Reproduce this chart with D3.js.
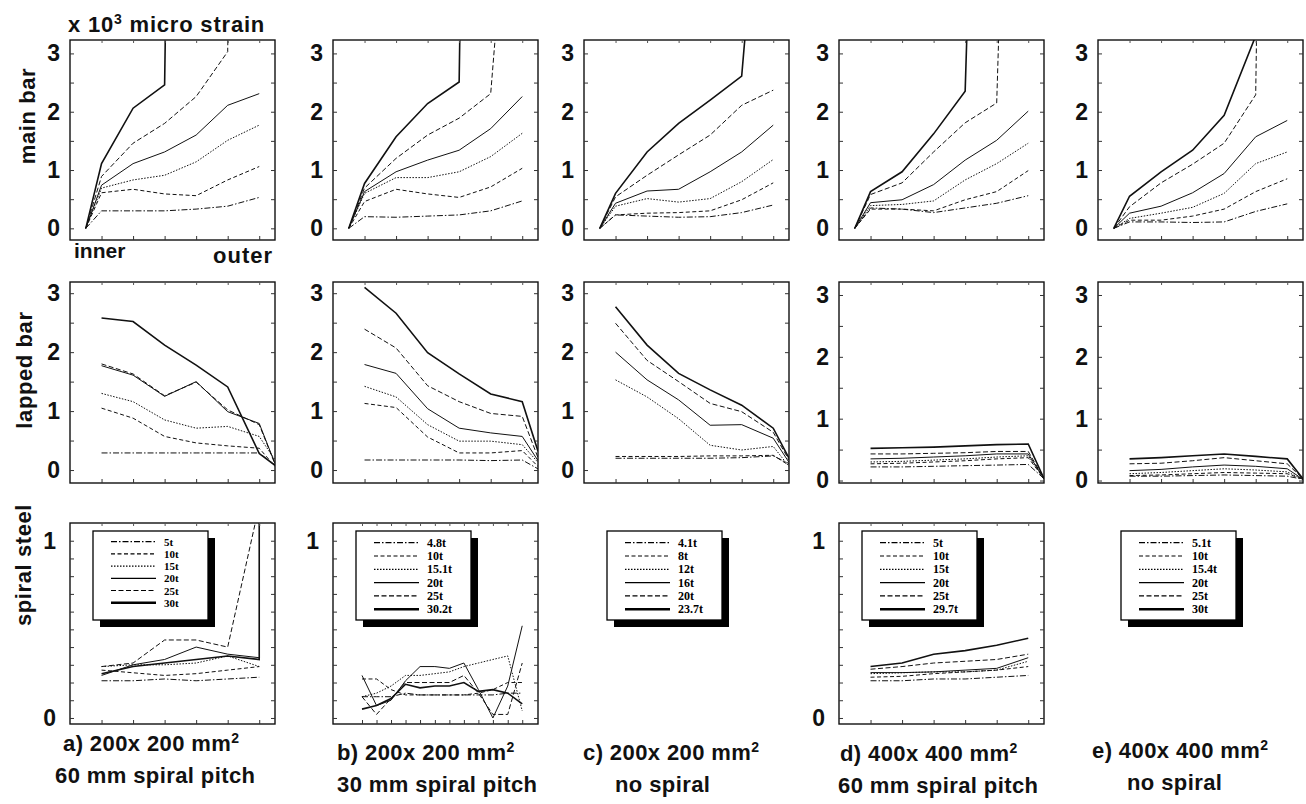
<!DOCTYPE html>
<html>
<head>
<meta charset="utf-8">
<script src="https://cdn.jsdelivr.net/npm/d3@7"></script>
<style>
  body { margin: 0; background: #fff; }
  svg { display: block; font-family: "Liberation Sans", Arial, sans-serif; }
</style>
</head>
<body>
<svg id="chart" width="1306" height="804"></svg>
<script>
// x positions of the gauges (inner -> outer)
var mainX   = [0, 0.5, 1.5, 2.5, 3.5, 4.5, 5.5];
var lappedX = [0.5, 1.5, 2.5, 3.5, 4.5, 5.5, 6];
var spiralX = [0.5, 1.5, 2.5, 3.5, 4.5, 5.5, 5.5];
var spiralXb = [0.42, 0.88, 1.34, 1.8, 2.26, 2.73, 3.19, 3.65, 4.11, 4.57, 5.04, 5.5];

var loadsA = ["5t", "10t", "15t", "20t", "25t", "30t"];
var loadsB = ["4.8t", "10t", "15.1t", "20t", "25t", "30.2t"];
var loadsC = ["4.1t", "8t", "12t", "16t", "20t", "23.7t"];
var loadsD = ["5t", "10t", "15t", "20t", "25t", "29.7t"];
var loadsE = ["5.1t", "10t", "15.4t", "20t", "25t", "30t"];

// main bar strain (x10^3 micro strain), one row per load
var mainA = [
  [0, 0.30, 0.30, 0.30, 0.33, 0.38, 0.53],
  [0, 0.61, 0.67, 0.59, 0.56, 0.83, 1.06],
  [0, 0.69, 0.83, 0.91, 1.14, 1.51, 1.77],
  [0, 0.74, 1.11, 1.31, 1.60, 2.11, 2.31],
  [0, 0.89, 1.46, 1.80, 2.26, 3.03, 40],
  [0, 1.11, 2.06, 2.46, 40, 40, 40]
];
var mainB = [
  [0, 0.20, 0.19, 0.21, 0.23, 0.30, 0.47],
  [0, 0.46, 0.67, 0.59, 0.53, 0.71, 1.03],
  [0, 0.60, 0.87, 0.87, 0.97, 1.23, 1.63],
  [0, 0.63, 0.97, 1.17, 1.34, 1.71, 2.26],
  [0, 0.69, 1.20, 1.60, 1.89, 2.31, 9],
  [0, 0.77, 1.57, 2.14, 2.51, 40, 40]
];
var mainC = [
  [0, 0.23, 0.21, 0.19, 0.20, 0.27, 0.40],
  [0, 0.23, 0.26, 0.27, 0.30, 0.49, 0.78],
  [0, 0.38, 0.51, 0.45, 0.51, 0.80, 1.18],
  [0, 0.43, 0.64, 0.67, 0.97, 1.31, 1.77],
  [0, 0.54, 0.91, 1.26, 1.60, 2.11, 2.37],
  [0, 0.60, 1.31, 1.80, 2.20, 2.61, 9]
];
var mainD = [
  [0, 0.35, 0.33, 0.27, 0.35, 0.43, 0.56],
  [0, 0.33, 0.33, 0.30, 0.49, 0.63, 0.99],
  [0, 0.39, 0.41, 0.47, 0.83, 1.11, 1.46],
  [0, 0.44, 0.49, 0.75, 1.17, 1.51, 2.01],
  [0, 0.58, 0.78, 1.31, 1.81, 2.15, 20],
  [0, 0.63, 0.97, 1.62, 2.35, 20, 20]
];
var mainE = [
  [0, 0.11, 0.11, 0.10, 0.11, 0.29, 0.42],
  [0, 0.14, 0.14, 0.21, 0.33, 0.63, 0.85],
  [0, 0.17, 0.26, 0.36, 0.60, 1.11, 1.31],
  [0, 0.26, 0.38, 0.61, 0.94, 1.57, 1.85],
  [0, 0.37, 0.78, 1.10, 1.46, 2.29, 40],
  [0, 0.55, 0.97, 1.34, 1.94, 3.30, 40]
];

// lapped bar strain
var lappedA = [
  [0.29, 0.29, 0.29, 0.29, 0.29, 0.29, 0.08],
  [1.05, 0.88, 0.57, 0.46, 0.41, 0.37, 0.06],
  [1.30, 1.16, 0.85, 0.71, 0.74, 0.57, 0.17],
  [1.77, 1.61, 1.25, 1.50, 0.99, 0.79, 0.11],
  [1.80, 1.63, 1.26, 1.49, 1.02, 0.77, 0.10],
  [2.58, 2.52, 2.12, 1.78, 1.41, 0.28, 0.08]
];
var lappedB = [
  [0.17, 0.17, 0.17, 0.17, 0.16, 0.17, 0.02],
  [1.13, 1.06, 0.56, 0.29, 0.29, 0.33, 0.06],
  [1.42, 1.24, 0.77, 0.49, 0.49, 0.43, 0.13],
  [1.79, 1.64, 1.04, 0.71, 0.63, 0.57, 0.16],
  [2.39, 2.07, 1.43, 1.16, 0.96, 0.91, 0.21],
  [3.10, 2.66, 1.99, 1.63, 1.29, 1.16, 0.32]
];
var lappedC = [
  [0.20, 0.20, 0.20, 0.20, 0.21, 0.24, 0.11],
  [0.23, 0.23, 0.23, 0.24, 0.24, 0.25, 0.08],
  [1.53, 1.24, 0.87, 0.42, 0.34, 0.40, 0.06],
  [2.00, 1.53, 1.19, 0.76, 0.77, 0.54, 0.13],
  [2.49, 1.86, 1.50, 1.13, 0.99, 0.64, 0.17],
  [2.77, 2.12, 1.64, 1.36, 1.10, 0.71, 0.20]
];
var lappedD = [
  [0.22, 0.22, 0.23, 0.24, 0.25, 0.26, 0.03],
  [0.27, 0.28, 0.30, 0.32, 0.35, 0.37, 0.03],
  [0.30, 0.31, 0.33, 0.35, 0.38, 0.40, 0.03],
  [0.35, 0.36, 0.38, 0.40, 0.43, 0.43, 0.03],
  [0.43, 0.43, 0.44, 0.45, 0.47, 0.47, 0.03],
  [0.52, 0.53, 0.54, 0.56, 0.58, 0.59, 0.03]
];
var lappedE = [
  [0.07, 0.07, 0.08, 0.09, 0.08, 0.07, 0.02],
  [0.08, 0.09, 0.11, 0.13, 0.12, 0.11, 0.02],
  [0.11, 0.13, 0.16, 0.19, 0.17, 0.14, 0.02],
  [0.16, 0.18, 0.22, 0.25, 0.23, 0.19, 0.02],
  [0.27, 0.28, 0.32, 0.37, 0.32, 0.27, 0.03],
  [0.35, 0.37, 0.40, 0.43, 0.39, 0.35, 0.03]
];

// spiral steel strain
var spiralA = [
  [0.21, 0.21, 0.22, 0.21, 0.22, 0.23],
  [0.27, 0.255, 0.24, 0.25, 0.27, 0.29],
  [0.29, 0.30, 0.30, 0.31, 0.35, 0.29],
  [0.24, 0.30, 0.33, 0.40, 0.36, 0.34],
  [0.29, 0.31, 0.44, 0.44, 0.40, 1.20],
  [0.25, 0.29, 0.31, 0.33, 0.35, 0.33, 1.20]
];
var spiralB = [
  [0.12, 0.12, 0.12, 0.14, 0.13, 0.13, 0.13, 0.13, 0.13, 0.13, 0.14, 0.14],
  [0.22, 0.22, 0.16, 0.13, 0.13, 0.13, 0.13, 0.13, 0.14, 0.16, 0.20, 0.20],
  [0.12, 0.14, 0.18, 0.24, 0.24, 0.25, 0.26, 0.29, 0.31, 0.33, 0.35, 0.04],
  [0.24, 0.07, 0.10, 0.21, 0.29, 0.29, 0.28, 0.31, 0.16, 0.00, 0.18, 0.52],
  [0.12, 0.02, 0.11, 0.20, 0.20, 0.20, 0.20, 0.24, 0.14, 0.02, 0.02, 0.31],
  [0.05, 0.07, 0.11, 0.19, 0.17, 0.18, 0.18, 0.20, 0.15, 0.16, 0.14, 0.08]
];
var spiralD = [
  [0.21, 0.21, 0.22, 0.22, 0.23, 0.24],
  [0.23, 0.235, 0.25, 0.26, 0.27, 0.29],
  [0.25, 0.255, 0.26, 0.26, 0.27, 0.32],
  [0.256, 0.256, 0.26, 0.27, 0.28, 0.34],
  [0.275, 0.29, 0.31, 0.32, 0.33, 0.36],
  [0.29, 0.31, 0.36, 0.38, 0.41, 0.45]
];

var captionTop = ["a) 200x 200 mm", "b) 200x 200 mm", "c) 200x 200 mm", "d) 400x 400 mm", "e) 400x 400 mm"];
var captionBottom = ["60 mm spiral pitch", "30 mm spiral pitch", "no spiral", "60 mm spiral pitch", "no spiral"];

// line styles per load step
var dashes = ["6,2,1.5,2", "4,2.5", "1.5,1.5", null, "5,2.5", null];
var widths = [1, 1, 1, 1, 1, 1.6];

var svg = d3.select("#chart");
svg.append("rect").attr("width", 1306).attr("height", 804).attr("fill", "#fff");

var colLeft = [70, 333, 584, 839, 1098];
var panelW = 205;
var clipId = 0;
var ink = "#111";

function drawPanel(opt) {
  var left = opt.left, top = opt.top, bottom = opt.bottom;
  var x = d3.scaleLinear().domain([-0.5, 6]).range([left, left + panelW]);
  var y = d3.scaleLinear().domain(opt.yDomain).range([bottom, top]);
  var g = svg.append("g");

  var id = "clip" + (clipId++);
  g.append("clipPath").attr("id", id).append("rect")
    .attr("x", left).attr("y", top).attr("width", panelW).attr("height", bottom - top);

  var lines = g.append("g").attr("clip-path", "url(#" + id + ")");
  var line = function (xs) {
    return d3.line().x(function (d, i) { return x(xs[i]); }).y(function (d) { return y(d); });
  };
  opt.series.forEach(function (s, i) {
    lines.append("path")
      .attr("d", line(opt.xs)(s))
      .attr("fill", "none")
      .attr("stroke", ink)
      .attr("stroke-width", widths[i])
      .attr("stroke-dasharray", dashes[i]);
  });

  // frame
  g.append("rect").attr("x", left).attr("y", top).attr("width", panelW).attr("height", bottom - top)
    .attr("fill", "none").attr("stroke", ink).attr("stroke-width", 1.4);

  // inner ticks on all four sides, labels on the left only
  var yAxis = d3.axisLeft(y).tickValues(opt.yTicks).tickSize(-4).tickPadding(opt.labelPad)
    .tickFormat(function (d) { return opt.yLabels.indexOf(d) >= 0 ? d : ""; });
  var ga = g.append("g").attr("transform", "translate(" + left + ",0)").call(yAxis);
  ga.select(".domain").remove();
  ga.selectAll("text").attr("font-size", 23).attr("font-weight", "bold").attr("fill", ink)
    .attr("font-family", "'Liberation Sans', Arial, sans-serif");
  ga.selectAll("line").attr("stroke", "#333");

  var gr = g.append("g").attr("transform", "translate(" + (left + panelW) + ",0)")
    .call(d3.axisRight(y).tickValues(opt.yTicks).tickSize(-4).tickFormat(""));
  gr.select(".domain").remove();
  gr.selectAll("line").attr("stroke", "#333");

  var gb = g.append("g").attr("transform", "translate(0," + bottom + ")")
    .call(d3.axisBottom(x).tickValues(opt.xTicks).tickSize(-4).tickFormat(""));
  gb.select(".domain").remove();
  gb.selectAll("line").attr("stroke", "#333");

  var gt = g.append("g").attr("transform", "translate(0," + top + ")")
    .call(d3.axisTop(x).tickValues(opt.xTicks).tickSize(-3).tickFormat(""));
  gt.select(".domain").remove();
  gt.selectAll("line").attr("stroke", "#555");
}

function drawLegend(left, labels, rowGap, firstRow, fontSize) {
  var bx = left + 23, by = 531, bw = 115, bh = 89;
  var g = svg.append("g");
  g.append("rect").attr("x", bx + 7).attr("y", by + 7).attr("width", bw).attr("height", bh).attr("fill", "#000");
  g.append("rect").attr("x", bx).attr("y", by).attr("width", bw).attr("height", bh)
    .attr("fill", "#fff").attr("stroke", "#000").attr("stroke-width", 1.3);
  labels.forEach(function (lab, i) {
    var yy = by + firstRow + i * rowGap;
    g.append("line").attr("x1", bx + 18).attr("x2", bx + 63).attr("y1", yy).attr("y2", yy)
      .attr("stroke", "#000").attr("stroke-width", i === 5 ? 2.6 : 1.2)
      .attr("stroke-dasharray", dashes[i]);
    g.append("text").attr("x", bx + 71).attr("y", yy + 4)
      .attr("font-family", "'Liberation Serif', 'DejaVu Serif', serif")
      .attr("font-weight", "bold").attr("font-size", fontSize).attr("fill", "#000")
      .text(lab);
  });
}

var mainSets = [mainA, mainB, mainC, mainD, mainE];
var lappedSets = [lappedA, lappedB, lappedC, lappedD, lappedE];
var loadSets = [loadsA, loadsB, loadsC, loadsD, loadsE];
var halfSteps = [0, 0.5, 1, 1.5, 2, 2.5, 3];
var tenthSteps = d3.range(0, 1.01, 0.1).map(function (d) { return +d.toFixed(1); });
var xTicks = [0.5, 1.5, 2.5, 3.5, 4.5, 5.5];

colLeft.forEach(function (left, c) {
  drawPanel({ left: left, top: 40, bottom: 240, yDomain: [-0.2, 3.23],
    xs: mainX, series: mainSets[c], yTicks: halfSteps, yLabels: [0, 1, 2, 3], labelPad: 10, xTicks: xTicks });
  var lapDomain = c >= 3 ? [-0.04, 3.21] : [-0.22, 3.19];
  drawPanel({ left: left, top: 282, bottom: 483, yDomain: lapDomain,
    xs: lappedX, series: lappedSets[c], yTicks: halfSteps, yLabels: [0, 1, 2, 3], labelPad: 10, xTicks: xTicks });
});

drawPanel({ left: colLeft[0], top: 523, bottom: 724, yDomain: [-0.034, 1.10],
  xs: spiralX, series: spiralA, yTicks: tenthSteps, yLabels: [0, 1], labelPad: 14, xTicks: xTicks });
drawPanel({ left: colLeft[1], top: 523, bottom: 724, yDomain: [-0.034, 1.10],
  xs: spiralXb, series: spiralB, yTicks: tenthSteps, yLabels: [1], labelPad: 14, xTicks: spiralXb });
drawPanel({ left: colLeft[3], top: 523, bottom: 724, yDomain: [-0.034, 1.10],
  xs: spiralX, series: spiralD, yTicks: tenthSteps, yLabels: [0, 1], labelPad: 14, xTicks: xTicks });

colLeft.forEach(function (left, c) {
  if (c === 0) drawLegend(left, loadSets[c], 12.2, 10.7, 11);
  else drawLegend(left, loadSets[c], 13.3, 11.7, 12);
});

// header and row titles
var head = svg.append("text").attr("x", 68).attr("y", 32)
  .attr("font-size", 22).attr("letter-spacing", 0.8).attr("font-weight", "bold").attr("fill", ink);
head.append("tspan").text("x 10");
head.append("tspan").attr("font-size", 14).attr("dy", -8).text("3");
head.append("tspan").attr("dy", 8).text(" micro strain");

var rowTitles = [["main bar", 27, 116], ["lapped bar", 24, 370], ["spiral steel", 23, 565]];
rowTitles.forEach(function (r) {
  svg.append("text").attr("transform", "translate(" + r[1] + "," + r[2] + ") rotate(-90)")
    .attr("text-anchor", "middle").attr("dominant-baseline", "central")
    .attr("font-size", 22).attr("letter-spacing", 0.6)
    .attr("font-weight", "bold").attr("fill", ink).text(r[0]);
});

svg.append("text").attr("x", 74).attr("y", 258).attr("font-size", 21).attr("font-weight", "bold")
  .attr("fill", ink).text("inner");
svg.append("text").attr("x", 273).attr("y", 263).attr("text-anchor", "end").attr("font-size", 22)
  .attr("letter-spacing", 1).attr("font-weight", "bold").attr("fill", ink).text("outer");

// captions under each column
var capX1 = [63, 337, 583, 840, 1092];
var capX2 = [55, 337, 615, 838, 1127];
var capY = [751, 760, 760, 761, 758];
captionTop.forEach(function (t, c) {
  var tx = svg.append("text").attr("x", capX1[c]).attr("y", capY[c])
    .attr("font-size", 22).attr("letter-spacing", 0.4).attr("font-weight", "bold").attr("fill", ink);
  tx.append("tspan").text(t);
  tx.append("tspan").attr("font-size", 14).attr("dy", -8).text("2");
  svg.append("text").attr("x", capX2[c]).attr("y", capY[c] + 32)
    .attr("font-size", 22).attr("letter-spacing", 0.4)
    .attr("font-weight", "bold").attr("fill", ink).text(captionBottom[c]);
});
</script>
</body>
</html>
